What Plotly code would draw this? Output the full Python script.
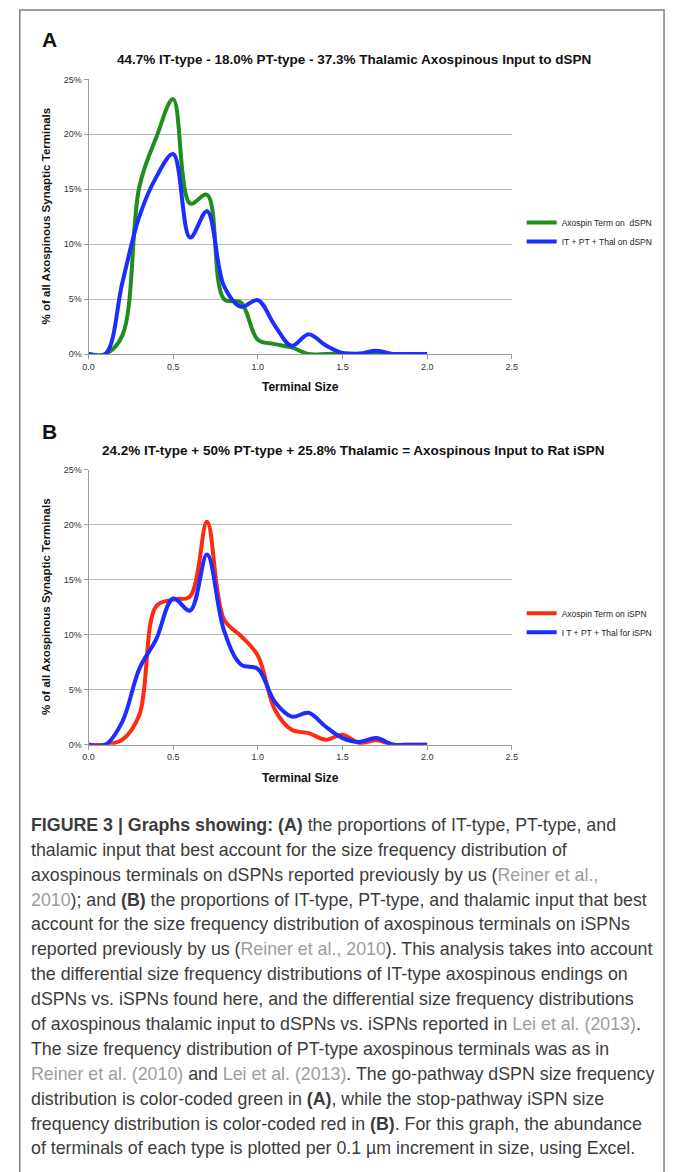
import plotly.graph_objects as go

# ---------------- data ----------------
terminal_size = [0.0, 0.1, 0.2, 0.3, 0.4, 0.5, 0.6, 0.7, 0.8, 0.9, 1.0,
                 1.1, 1.2, 1.3, 1.4, 1.5, 1.6, 1.7, 1.8, 1.9, 2.0]

a_axospin_dspn = [0, 0, 1.7, 15.2, 19.7, 23.2, 13.7, 14.5, 5.0, 4.7, 1.3,
                  0.9, 0.6, 0.0, 0.0, 0.05, 0.0, 0.05, 0, 0, 0]
a_sum_dspn = [0, 0, 6.5, 12.5, 16.1, 18.2, 10.6, 13.0, 6.2, 4.3, 4.9,
              2.6, 0.75, 1.8, 0.8, 0.1, 0.05, 0.3, 0, 0, 0]

b_axospin_ispn = [0, 0, 0.45, 2.7, 12.6, 13.2, 13.5, 20.3, 11.4, 9.9, 8.1,
                  3.2, 1.35, 1.05, 0.45, 0.9, 0.15, 0.4, 0, 0, 0]
b_sum_ispn = [0, 0, 2.1, 6.9, 9.6, 13.3, 12.2, 17.3, 10.4, 7.3, 6.9,
              3.9, 2.55, 2.9, 1.65, 0.6, 0.25, 0.6, 0, 0, 0]

names_a = ["Axospin Term on\u00a0\u00a0dSPN", "IT + PT + Thal on dSPN"]
names_b = ["Axospin Term on iSPN", "I T + PT + Thal for iSPN"]
title_a = "44.7% IT-type - 18.0% PT-type - 37.3% Thalamic Axospinous Input to dSPN"
title_b = "24.2% IT-type + 50% PT-type + 25.8% Thalamic = Axospinous Input to Rat iSPN"
y_title = "% of all Axospinous Synaptic Terminals"
x_title = "Terminal Size"
x_ticks = [0.0, 0.5, 1.0, 1.5, 2.0, 2.5]
y_ticks = [0, 5, 10, 15, 20, 25]
y_tick_text = ["0%", "5%", "10%", "15%", "20%", "25%"]

LINK = "<span style='color:#9d9d9d'>{}</span>"
caption_lines = [
    "<b>FIGURE 3 | Graphs showing: (A)</b> the proportions of IT-type, PT-type, and",
    "thalamic input that best account for the size frequency distribution of",
    "axospinous terminals on dSPNs reported previously by us (" + LINK.format("Reiner et al.,"),
    LINK.format("2010") + "); and <b>(B)</b> the proportions of IT-type, PT-type, and thalamic input that best",
    "account for the size frequency distribution of axospinous terminals on iSPNs",
    "reported previously by us (" + LINK.format("Reiner et al., 2010") + "). This analysis takes into account",
    "the differential size frequency distributions of IT-type axospinous endings on",
    "dSPNs vs. iSPNs found here, and the differential size frequency distributions",
    "of axospinous thalamic input to dSPNs vs. iSPNs reported in " + LINK.format("Lei et al. (2013)") + ".",
    "The size frequency distribution of PT-type axospinous terminals was as in",
    LINK.format("Reiner et al. (2010)") + " and " + LINK.format("Lei et al. (2013)") + ". The go-pathway dSPN size frequency",
    "distribution is color-coded green in <b>(A)</b>, while the stop-pathway iSPN size",
    "frequency distribution is color-coded red in <b>(B)</b>. For this graph, the abundance",
    "of terminals of each type is plotted per 0.1 \u00b5m increment in size, using Excel.",
]

# ---------------- layout helpers ----------------
W, H = 673, 1172


def px(x):
    return x / W


def py(y):
    return 1 - y / H


GREEN = "#1e8e1e"
BLUE = "#1c2dff"
RED = "#ff2b10"
GRID = "#b9b9b9"
AXIS = "#9c9c9c"
NARROW = "Liberation Sans Narrow, Arial Narrow, Liberation Sans, Arial, sans-serif"
SANS = "Liberation Sans, Arial, sans-serif"
TICKF = dict(family="Liberation Sans, sans-serif", size=9, color="#333333")

fig = go.Figure()

fig.add_trace(go.Scatter(x=terminal_size, y=a_axospin_dspn, name=names_a[0], mode="lines",
                         line=dict(color=GREEN, width=4, shape="spline", smoothing=1.0),
                         xaxis="x", yaxis="y", legend="legend"))
fig.add_trace(go.Scatter(x=terminal_size, y=a_sum_dspn, name=names_a[1], mode="lines",
                         line=dict(color=BLUE, width=4, shape="spline", smoothing=1.0),
                         xaxis="x", yaxis="y", legend="legend"))
fig.add_trace(go.Scatter(x=terminal_size, y=b_axospin_ispn, name=names_b[0], mode="lines",
                         line=dict(color=RED, width=4, shape="spline", smoothing=1.0),
                         xaxis="x2", yaxis="y2", legend="legend2"))
fig.add_trace(go.Scatter(x=terminal_size, y=b_sum_ispn, name=names_b[1], mode="lines",
                         line=dict(color=BLUE, width=4, shape="spline", smoothing=1.0),
                         xaxis="x2", yaxis="y2", legend="legend2"))

xa = dict(range=[0, 2.5], tickvals=x_ticks, tickformat=".1f", showgrid=False, zeroline=False,
          showline=True, linecolor=AXIS, linewidth=1, ticks="outside", ticklen=4,
          tickcolor=AXIS, tickfont=TICKF, fixedrange=True)
ya = dict(range=[0, 25], tickvals=y_ticks, ticktext=y_tick_text, showgrid=True, gridcolor=GRID,
          gridwidth=1, zeroline=False, showline=True, linecolor=AXIS, linewidth=1,
          ticks="outside", ticklen=4, tickcolor=AXIS, tickfont=TICKF, fixedrange=True)

legend_common = dict(font=dict(family=NARROW, size=8.5, color="#222222"), bgcolor="rgba(0,0,0,0)",
                     itemwidth=30, tracegroupgap=0, xanchor="left", yanchor="middle")

annotations = [
    dict(text="<b>A</b>", x=px(35), y=py(35), font=dict(family=SANS, size=21, color="#111")),
    dict(text="<b>" + title_a + "</b>", x=px(354), y=py(55), xanchor="center",
         font=dict(family=NARROW, size=13.5, color="#111")),
    dict(text="<b>" + y_title + "</b>", x=px(41), y=py(213), xanchor="center", textangle=-90,
         font=dict(family=NARROW, size=11.5, color="#111")),
    dict(text="<b>" + x_title + "</b>", x=px(300), y=py(385), xanchor="center",
         font=dict(family=NARROW, size=12, color="#111")),
    dict(text="<b>B</b>", x=px(35), y=py(430), font=dict(family=SANS, size=21, color="#111")),
    dict(text="<b>" + title_b + "</b>", x=px(354), y=py(449), xanchor="center",
         font=dict(family=NARROW, size=13.5, color="#111")),
    dict(text="<b>" + y_title + "</b>", x=px(41), y=py(607), xanchor="center", textangle=-90,
         font=dict(family=NARROW, size=11.5, color="#111")),
    dict(text="<b>" + x_title + "</b>", x=px(300), y=py(780), xanchor="center",
         font=dict(family=NARROW, size=12, color="#111")),
]
for a in annotations:
    a.setdefault("xanchor", "left")
    a.update(xref="paper", yref="paper", yanchor="middle", showarrow=False)

cap_top = 827
cap_step = 25.1
for i, line in enumerate(caption_lines):
    annotations.append(dict(text=line, x=px(23), y=py(cap_top + i * cap_step), xref="paper",
                            yref="paper", xanchor="left", yanchor="middle", showarrow=False,
                            font=dict(family="Liberation Sans, Arial, sans-serif", size=17.8,
                                      color="#3c3c3c")))

fig.update_layout(
    width=W, height=H, autosize=False,
    margin=dict(l=0, r=0, t=0, b=0),
    paper_bgcolor="white", plot_bgcolor="white",
    xaxis=dict(xa, domain=[px(84), px(515)], anchor="y"),
    yaxis=dict(ya, domain=[py(352), py(75)], anchor="x"),
    xaxis2=dict(xa, domain=[px(84), px(515)], anchor="y2"),
    yaxis2=dict(ya, domain=[py(746), py(469)], anchor="x2"),
    legend=dict(legend_common, x=px(525), y=py(229)),
    legend2=dict(legend_common, x=px(525), y=py(623)),
    annotations=annotations,
    shapes=[dict(type="rect", xref="paper", yref="paper", x0=px(14), x1=px(670),
                 y0=py(1190), y1=py(5), line=dict(color="#808080", width=1.5))],
    showlegend=True,
)

fig.write_html("out.html", config={"displayModeBar": False, "staticPlot": True},
               post_script="document.body.style.margin='0';document.body.style.overflow='hidden';")
